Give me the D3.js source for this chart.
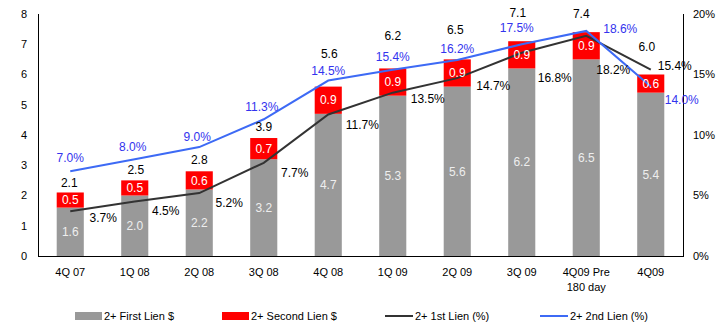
<!DOCTYPE html>
<html>
<head>
<meta charset="utf-8">
<script src="https://cdn.jsdelivr.net/npm/d3@7/dist/d3.min.js"></script>
<style>
  html, body { margin: 0; padding: 0; background: #fff; }
  svg { display: block; font-family: Arial, "Liberation Sans", sans-serif; }
</style>
</head>
<body>
<svg id="chart" width="717" height="325"></svg>
<script>
// Quarterly delinquency data
const categories = ["4Q 07", "1Q 08", "2Q 08", "3Q 08", "4Q 08", "1Q 09", "2Q 09", "3Q 09", "4Q09 Pre\n180 day", "4Q09"];
const firstLienDollars  = [1.6, 2.0, 2.2, 3.2, 4.7, 5.3, 5.6, 6.2, 6.5, 5.4];
const secondLienDollars = [0.5, 0.5, 0.6, 0.7, 0.9, 0.9, 0.9, 0.9, 0.9, 0.6];
const totalDollars      = [2.1, 2.5, 2.8, 3.9, 5.6, 6.2, 6.5, 7.1, 7.4, 6.0];
const firstLienPct      = [3.7, 4.5, 5.2, 7.7, 11.7, 13.5, 14.7, 16.8, 18.2, 15.4];
const secondLienPct     = [7.0, 8.0, 9.0, 11.3, 14.5, 15.4, 16.2, 17.5, 18.6, 14.0];
const leftTicks  = [0, 1, 2, 3, 4, 5, 6, 7, 8];
const rightTicks = [0, 5, 10, 15, 20];
const legendItems = ["2+ First Lien $", "2+ Second Lien $", "2+ 1st Lien (%)", "2+ 2nd Lien (%)"];

// Label nudges (px) so labels clear the lines and bars
const totalLabelDy = [-10, -11, -12, -11, -33, -33, -30, -28, -18, -28];
const totalLabelDx = [-1, 1, 0, 0, 1, 0, -2, -4, -5, -4];
const firstLabelDx = [33, 31, 30, 31, 34, 35, 36, 33, 27, 24];
const firstLabelDy = [7, 9, 10, 10, 10, 6, 8, 25, 34, -4];
const secondLabelDx = [0, -2, -2, -2, 0, 0, 0, -5, 34, 31];
const secondLabelDy = [-14, -12, -10, -12, -10, -13, -11, -16, -2, 13];

const colors = { first: "#999999", second: "#ff0000", firstLine: "#333333", secondLine: "#3d6af5", secondText: "#3333ee" };

const svg = d3.select("#chart");
const plotLeft = 38, plotRight = 683, plotTop = 14, plotBottom = 256;

const x = d3.scaleBand().domain(categories).range([plotLeft, plotRight]).paddingInner(0.58).paddingOuter(0.29);
const yL = d3.scaleLinear().domain([0, 8]).range([plotBottom, plotTop]);
const yR = d3.scaleLinear().domain([0, 20]).range([plotBottom, plotTop]);
const cx = i => x(categories[i]) + x.bandwidth() / 2;

// Axis lines
const axisG = svg.append("g").attr("stroke", "#000").attr("stroke-width", 1);
axisG.append("line").attr("x1", plotLeft + 0.5).attr("x2", plotLeft + 0.5).attr("y1", plotTop).attr("y2", plotBottom);
axisG.append("line").attr("x1", plotRight + 0.5).attr("x2", plotRight + 0.5).attr("y1", plotTop).attr("y2", plotBottom);
axisG.append("line").attr("x1", plotLeft).attr("x2", plotRight + 1).attr("y1", plotBottom + 0.5).attr("y2", plotBottom + 0.5);

// Left axis labels
svg.append("g").selectAll("text").data(leftTicks).join("text")
  .attr("x", 27).attr("y", d => yL(d)).attr("dy", "0.35em")
  .attr("text-anchor", "end").attr("font-size", 11).attr("fill", "#000")
  .text(d => d);

// Right axis labels
svg.append("g").selectAll("text").data(rightTicks).join("text")
  .attr("x", 693).attr("y", d => yR(d)).attr("dy", "0.35em")
  .attr("text-anchor", "start").attr("font-size", 11).attr("fill", "#000")
  .text(d => d + "%");

// Category labels (may wrap onto two lines)
const catG = svg.append("g");
categories.forEach((c, i) => {
  const t = catG.append("text").attr("x", cx(i)).attr("y", 276)
    .attr("text-anchor", "middle").attr("font-size", 11).attr("fill", "#000");
  c.split("\n").forEach((line, j) => {
    t.append("tspan").attr("x", cx(i)).attr("dy", j === 0 ? 0 : 15).text(line);
  });
});

// Stacked bars
const bars = svg.append("g");
bars.selectAll("rect.first").data(firstLienDollars).join("rect")
  .attr("class", "first")
  .attr("x", (d, i) => x(categories[i])).attr("width", x.bandwidth())
  .attr("y", d => yL(d)).attr("height", d => yL(0) - yL(d))
  .attr("fill", colors.first);
bars.selectAll("rect.second").data(secondLienDollars).join("rect")
  .attr("class", "second")
  .attr("x", (d, i) => x(categories[i])).attr("width", x.bandwidth())
  .attr("y", (d, i) => yL(firstLienDollars[i] + d))
  .attr("height", (d, i) => yL(firstLienDollars[i]) - yL(firstLienDollars[i] + d))
  .attr("fill", colors.second);

// Lines
const lineGen = d3.line().x((d, i) => cx(i)).y(d => yR(d));
svg.append("path").datum(firstLienPct).attr("d", lineGen)
  .attr("fill", "none").attr("stroke", colors.firstLine).attr("stroke-width", 2);
svg.append("path").datum(secondLienPct).attr("d", lineGen)
  .attr("fill", "none").attr("stroke", colors.secondLine).attr("stroke-width", 2);

// Labels inside bars
const lab = svg.append("g").attr("font-size", 12).attr("text-anchor", "middle");
firstLienDollars.forEach((d, i) => {
  lab.append("text").attr("x", cx(i)).attr("y", (yL(0) + yL(d)) / 2).attr("dy", "0.35em")
    .attr("fill", "#eeeeee").text(d.toFixed(1));
});
secondLienDollars.forEach((d, i) => {
  const y0 = yL(firstLienDollars[i]), y1 = yL(firstLienDollars[i] + d);
  lab.append("text").attr("x", cx(i)).attr("y", (y0 + y1) / 2).attr("dy", "0.35em")
    .attr("fill", "#ffffff").text(d.toFixed(1));
});
// Totals above bars
totalDollars.forEach((d, i) => {
  lab.append("text").attr("x", cx(i) + totalLabelDx[i]).attr("y", yL(d) + totalLabelDy[i]).attr("dy", "0.35em")
    .attr("fill", "#000").text(d.toFixed(1));
});
// Line value labels
firstLienPct.forEach((d, i) => {
  lab.append("text").attr("x", cx(i) + firstLabelDx[i]).attr("y", yR(d) + firstLabelDy[i]).attr("dy", "0.35em")
    .attr("fill", "#000").text(d.toFixed(1) + "%");
});
secondLienPct.forEach((d, i) => {
  lab.append("text").attr("x", cx(i) + secondLabelDx[i]).attr("y", yR(d) + secondLabelDy[i]).attr("dy", "0.35em")
    .attr("fill", colors.secondText).text(d.toFixed(1) + "%");
});

// Legend
const legY = 316;
const legX = [75, 222, 385, 540];
const leg = svg.append("g").attr("font-size", 11);
legendItems.forEach((name, i) => {
  const g = leg.append("g").attr("transform", `translate(${legX[i]},${legY})`);
  if (i < 2) {
    g.append("rect").attr("x", 0).attr("y", -4).attr("width", 27).attr("height", 8)
      .attr("fill", i === 0 ? colors.first : colors.second);
  } else {
    g.append("line").attr("x1", 0).attr("x2", 28).attr("y1", 0).attr("y2", 0)
      .attr("stroke", i === 2 ? colors.firstLine : colors.secondLine).attr("stroke-width", 2);
  }
  g.append("text").attr("x", i < 2 ? 29 : 30).attr("y", 0).attr("dy", "0.35em").attr("fill", "#000").text(name);
});
</script>
</body>
</html>
